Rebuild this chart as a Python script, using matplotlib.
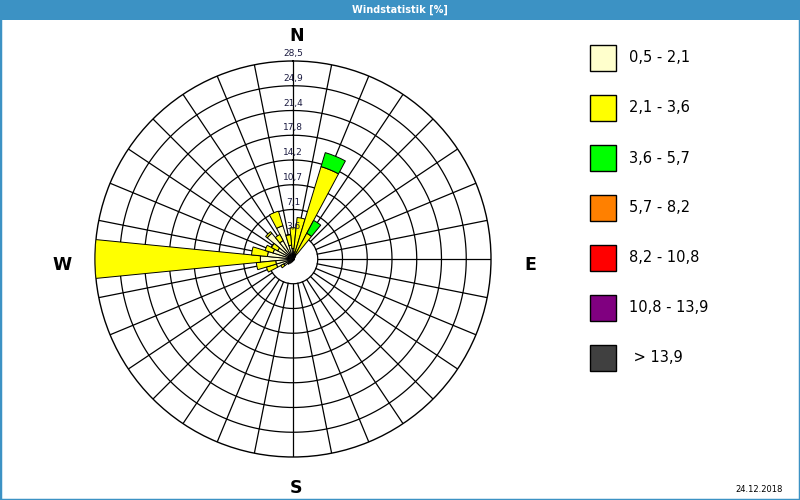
"""Wind rose (Windstatistik) redrawn with matplotlib."""

import matplotlib

matplotlib.use("Agg")
import matplotlib.pyplot as plt
import numpy as np
from matplotlib.patches import Rectangle

BAR_BLUE = "#3C92C4"
TEXT_DARK = "#1A1A40"

# 32 sectors, clockwise from north, 11.25 deg apart
directions_deg = np.arange(32) * 11.25

# frequency (%) per wind-speed class, stacked outward
class_05_21 = [1.5, 1.0, 0.5, 0.5, 0.5, 0.3, 0.2, 0.2, 0.2, 0.2, 0.2, 0.2, 0.2, 0.2, 0.2, 0.2,
               0.3, 0.3, 0.5, 0.7, 1.0, 1.5, 2.5, 2.5, 4.7, 3.7, 3.0, 2.5, 4.8, 3.0, 5.0, 2.0]
class_21_36 = [3.0, 5.0, 13.4, 3.7, 0.0, 0.0, 0.0, 0.0, 0.0, 0.0, 0.0, 0.0, 0.0, 0.0, 0.0, 0.0,
               0.0, 0.0, 0.0, 0.0, 0.0, 0.5, 1.5, 2.8, 23.8, 2.3, 1.2, 1.0, 0.3, 1.0, 2.2, 1.5]
class_36_57 = [0.0, 0.0, 2.1, 2.1, 0.0, 0.0, 0.0, 0.0, 0.0, 0.0, 0.0, 0.0, 0.0, 0.0, 0.0, 0.0,
               0.0, 0.0, 0.0, 0.0, 0.0, 0.0, 0.0, 0.0, 0.0, 0.0, 0.0, 0.0, 0.0, 0.0, 0.0, 0.0]

class_labels = ["0,5 - 2,1", "2,1 - 3,6", "3,6 - 5,7", "5,7 - 8,2",
                "8,2 - 10,8", "10,8 - 13,9", " > 13,9"]
class_colors = ["#FFFFCC", "#FFFF00", "#00FF00", "#FF8000", "#FF0000", "#800080", "#404040"]

r_max = 28.5
ring_labels = ["3,6", "7,1", "10,7", "14,2", "17,8", "21,4", "24,9", "28,5"]


def fx(px):
    return px / 800


def fy(py):
    return 1 - py / 500


fig = plt.figure(figsize=(8, 5), dpi=100, facecolor="white")

# title bar and frame
fig.add_artist(Rectangle((0, fy(20)), 1, 20 / 500, transform=fig.transFigure,
                         facecolor=BAR_BLUE, edgecolor="none"))
fig.add_artist(Rectangle((0, 0), 1, 1, transform=fig.transFigure, fill=False,
                         edgecolor=BAR_BLUE, linewidth=2.5))
fig.text(0.5, fy(10), "Windstatistik [%]", ha="center", va="center", color="white",
         fontsize=7, fontweight="bold", family=["DejaVu Sans"])

cx, cy, rad = 293, 259, 198
ax = fig.add_axes([fx(cx - rad), fy(cy + rad), 2 * rad / 800, 2 * rad / 500],
                  projection="polar")
ax.set_theta_zero_location("N")
ax.set_theta_direction(-1)
ax.set_ylim(0, r_max)
ax.set_xticks([])
ax.set_yticks([])
ax.grid(False)
ax.spines["polar"].set_color("black")
ax.spines["polar"].set_linewidth(1.0)

# grid: rings and spokes
rings = np.linspace(r_max / len(ring_labels), r_max, len(ring_labels))
theta_fine = np.linspace(0, 2 * np.pi, 400)
for r in rings[:-1]:
    ax.plot(theta_fine, np.full_like(theta_fine, r), color="black", lw=0.9, zorder=1)
for th in np.deg2rad(directions_deg):
    ax.plot([th, th], [rings[0], r_max], color="black", lw=0.9, zorder=1)

# stacked bars
theta = np.deg2rad(directions_deg)
width = np.deg2rad(11.25)
bottom = np.zeros(len(theta))
for values, color in zip([class_05_21, class_21_36, class_36_57], class_colors):
    values = np.asarray(values)
    keep = values > 0
    ax.bar(theta[keep], values[keep], width=width, bottom=bottom[keep], color=color,
           edgecolor="black", linewidth=0.7, zorder=3)
    bottom = bottom + values

for r, lab in zip(rings, ring_labels):
    ax.annotate(lab, (0, r), xytext=(0, 2), textcoords="offset points", ha="center",
                va="bottom", fontsize=6.5, color=TEXT_DARK, zorder=5, annotation_clip=False)

# compass letters
for lab, px, py in [("N", 297, 36), ("E", 530, 265), ("S", 296, 488), ("W", 62, 265)]:
    fig.text(fx(px), fy(py), lab, ha="center", va="center", fontsize=12.5,
             fontweight="bold", color="black")

# legend
for i, (lab, color) in enumerate(zip(class_labels, class_colors)):
    top = 45 + 50 * i
    fig.add_artist(Rectangle((fx(590), fy(top + 26)), 26 / 800, 26 / 500,
                             transform=fig.transFigure, facecolor=color,
                             edgecolor="black", linewidth=1.0))
    fig.text(fx(629), fy(top + 13), lab, ha="left", va="center", fontsize=10.5,
             color="black")

fig.text(fx(783), fy(489), "24.12.2018", ha="right", va="center", fontsize=6,
         color="black")

fig.savefig("out.png", dpi=100, facecolor="white")
